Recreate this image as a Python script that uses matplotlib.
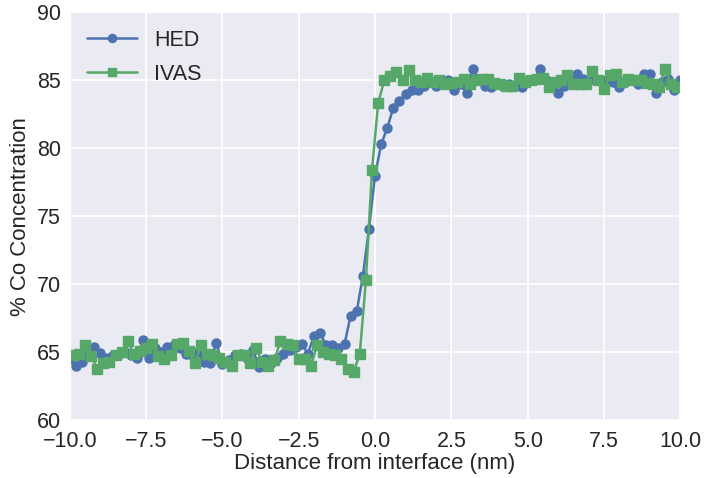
import matplotlib

matplotlib.use("Agg")
import matplotlib.pyplot as plt
import seaborn as sns


# distance grids (nm)
HED_X = [
    -10.0, -9.8, -9.6, -9.4, -9.2, -9.0, -8.8, -8.6, -8.4, -8.2,
    -8.0, -7.8, -7.6, -7.4, -7.2, -7.0, -6.8, -6.6, -6.4, -6.2,
    -6.0, -5.8, -5.6, -5.4, -5.2, -5.0, -4.8, -4.6, -4.4, -4.2,
    -4.0, -3.8, -3.6, -3.4, -3.2, -3.0, -2.8, -2.6, -2.4, -2.2,
    -2.0, -1.8, -1.6, -1.4, -1.2, -1.0, -0.8, -0.6, -0.4, -0.2,
    0.0, 0.2, 0.4, 0.6, 0.8, 1.0, 1.2, 1.4, 1.6, 1.8,
    2.0, 2.2, 2.4, 2.6, 2.8, 3.0, 3.2, 3.4, 3.6, 3.8,
    4.0, 4.2, 4.4, 4.6, 4.8, 5.0, 5.2, 5.4, 5.6, 5.8,
    6.0, 6.2, 6.4, 6.6, 6.8, 7.0, 7.2, 7.4, 7.6, 7.8,
    8.0, 8.2, 8.4, 8.6, 8.8, 9.0, 9.2, 9.4, 9.6, 9.8, 10.0,
]
HED_CO = [
    64.5, 64.0, 64.3, 64.8, 65.4, 64.95, 64.6, 64.8, 64.9, 65.0,
    64.8, 64.6, 65.9, 64.6, 65.3, 65.0, 65.4, 65.5, 65.3, 64.9,
    64.8, 65.0, 64.3, 64.2, 65.7, 64.1, 64.4, 64.8, 64.9, 64.6,
    65.15, 63.9, 64.5, 64.2, 64.6, 64.9, 65.15, 65.4, 65.6, 64.9,
    66.2, 66.4, 65.5, 65.5, 65.3, 65.6, 67.7, 68.0, 70.6, 74.1,
    78.0, 80.3, 81.5, 83.0, 83.5, 84.0, 84.3, 84.3, 84.6, 84.9,
    84.6, 84.8, 85.05, 84.3, 84.7, 84.07, 85.85, 85.0, 84.6, 84.5,
    84.8, 84.6, 84.75, 84.6, 84.5, 85.0, 85.0, 85.85, 85.0, 84.6,
    84.07, 84.6, 84.9, 85.5, 85.1, 85.0, 85.1, 85.05, 85.0, 84.9,
    84.5, 84.9, 85.0, 84.7, 85.5, 85.5, 84.07, 84.9, 85.1, 84.3, 85.0,
]

IVAS_X = [
    -9.9, -9.7, -9.5, -9.3, -9.1, -8.9, -8.7, -8.5, -8.3, -8.1,
    -7.9, -7.7, -7.5, -7.3, -7.1, -6.9, -6.7, -6.5, -6.3, -6.1,
    -5.9, -5.7, -5.5, -5.3, -5.1, -4.9, -4.7, -4.5, -4.3, -4.1,
    -3.9, -3.7, -3.5, -3.3, -3.1, -2.9, -2.7, -2.5, -2.3, -2.1,
    -1.9, -1.7, -1.5, -1.3, -1.1, -0.9, -0.7, -0.5, -0.3, -0.1,
    0.1, 0.3, 0.5, 0.7, 0.9, 1.1, 1.3, 1.5, 1.7, 1.9,
    2.1, 2.3, 2.5, 2.7, 2.9, 3.1, 3.3, 3.5, 3.7, 3.9,
    4.1, 4.3, 4.5, 4.7, 4.9, 5.1, 5.3, 5.5, 5.7, 5.9,
    6.1, 6.3, 6.5, 6.7, 6.9, 7.1, 7.3, 7.5, 7.7, 7.9,
    8.1, 8.3, 8.5, 8.7, 8.9, 9.1, 9.3, 9.5, 9.7, 9.9,
]
IVAS_CO = [
    64.8, 64.9, 65.5, 64.7, 63.8, 64.2, 64.3, 64.8, 65.0, 65.8,
    64.9, 65.1, 65.3, 65.6, 64.7, 64.5, 64.8, 65.6, 65.7, 65.1,
    64.2, 65.5, 64.9, 64.8, 64.6, 64.3, 64.0, 64.8, 64.8, 64.2,
    65.3, 64.3, 64.0, 64.4, 65.8, 65.6, 65.5, 64.5, 64.5, 64.0,
    65.5, 65.0, 64.9, 64.8, 64.5, 63.8, 63.55, 64.9, 70.3, 78.4,
    83.3, 85.0, 85.3, 85.6, 85.0, 85.8, 85.0, 84.9, 85.2, 84.9,
    85.0, 84.7, 84.8, 84.9, 85.1, 84.7, 85.0, 85.1, 85.1, 84.8,
    84.7, 84.6, 84.6, 85.2, 84.9, 85.0, 85.1, 85.2, 84.5, 84.9,
    85.0, 85.4, 84.7, 84.7, 84.7, 85.7, 85.0, 84.4, 85.4, 85.5,
    84.9, 85.1, 85.0, 85.0, 84.8, 84.7, 84.5, 85.85, 84.7, 84.5,
]

X_TICKS = [-10, -7.5, -5, -2.5, 0, 2.5, 5, 7.5, 10]
Y_TICKS = [60, 65, 70, 75, 80, 85, 90]

sns.set_style("darkgrid")
plt.rcParams["font.family"] = ["Liberation Sans", "DejaVu Sans"]

fig = plt.figure(figsize=(7.05, 4.78), dpi=100)
ax = fig.add_axes([0.099, 0.121, 0.866, 0.853])

ax.plot(HED_X, HED_CO, color="#4C72B0", marker="o", markersize=6.5,
        linewidth=1.8, label="HED")
ax.plot(IVAS_X, IVAS_CO, color="#55A868", marker="s", markersize=6.5,
        linewidth=1.8, label="IVAS")

ax.set_xlim(-10, 10)
ax.set_ylim(60, 90)
ax.set_xticks(X_TICKS)
ax.set_xticklabels([f"{v:.1f}".replace("-", "\u2212") for v in X_TICKS])
ax.set_yticks(Y_TICKS)
ax.tick_params(axis="y", labelsize=15.5, pad=3)
ax.tick_params(axis="x", labelsize=15.5, pad=4)
ax.grid(True, color="white", linewidth=1.3)
ax.set_xlabel("Distance from interface (nm)", fontsize=16, labelpad=1)
ax.set_ylabel("% Co Concentration", fontsize=16, labelpad=4)
ax.legend(loc="upper left", fontsize=15.5, frameon=False, handlelength=2.3,
          handletextpad=0.8, markerscale=0.9, borderaxespad=0.4,
          labelspacing=0.6)

fig.savefig("out.png", dpi=100)
